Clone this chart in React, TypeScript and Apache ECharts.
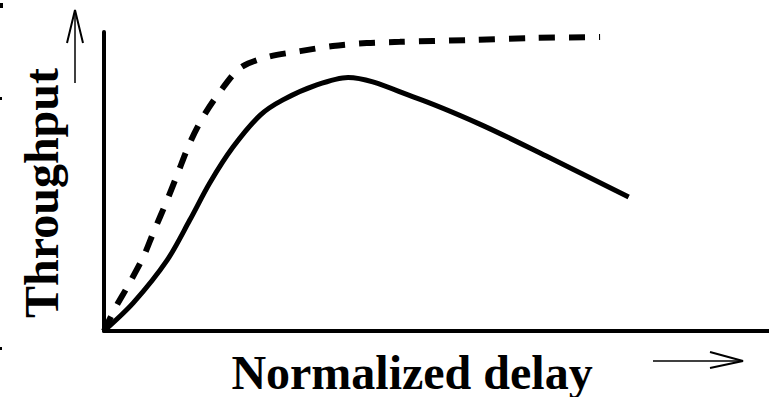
import React, { useEffect, useRef } from "react";
import * as echarts from "echarts";

// Normalized delay (x) / throughput (y) readings, axis range 0..100
const solidX = [0, 4.4, 9.5, 12.9, 15.9, 19.4, 23.5, 26.9, 32.0, 36.7, 46.5, 56.5, 66.5, 78.9];
const solidY = [0, 9.4, 23.7, 37.1, 49.5, 61.5, 72.2, 77.3, 82.3, 84.8, 78.3, 69.2, 58.5, 44.8];

const dashedX = [0, 1.7, 3.5, 5.9, 7.4, 9.5, 11.1, 12.9, 14.9, 17.4, 20.5, 24.5, 29.5, 34.4, 39.5, 44.5, 54.6, 64.5, 74.6];
const dashedY = [0, 7.7, 14.7, 24.7, 32.8, 43.8, 52.8, 62.9, 71.6, 79.9, 88.0, 91.6, 93.6, 95.3, 96.3, 96.7, 97.3, 98.0, 98.3];

const xTitle = "Normalized delay";
const yTitle = "Throughput";

export default function App() {
  const ref = useRef<HTMLDivElement>(null);

  useEffect(() => {
    document.body.style.margin = "0";
    if (!ref.current) return;
    const chart = echarts.init(ref.current, null, { renderer: "svg" });
    const font = "'Liberation Serif', 'Times New Roman', serif";
    chart.setOption({
      animation: false,
      backgroundColor: "#ffffff",
      grid: { left: 104, right: 0, top: 32, bottom: 66 },
      xAxis: {
        type: "value",
        min: 0,
        max: 100,
        axisLine: { show: true, lineStyle: { color: "#000", width: 4 } },
        axisTick: { show: false },
        axisLabel: { show: false },
        splitLine: { show: false },
      },
      yAxis: {
        type: "value",
        min: 0,
        max: 100,
        axisLine: { show: true, lineStyle: { color: "#000", width: 4 } },
        axisTick: { show: false },
        axisLabel: { show: false },
        splitLine: { show: false },
      },
      series: [
        {
          type: "line",
          data: dashedX.map((x, i) => [x, dashedY[i]]),
          smooth: 0.3,
          showSymbol: false,
          lineStyle: { color: "#000", width: 6, type: [16, 14] },
        },
        {
          type: "line",
          data: solidX.map((x, i) => [x, solidY[i]]),
          smooth: 0.3,
          showSymbol: false,
          lineStyle: { color: "#000", width: 5 },
        },
      ],
      graphic: [
        {
          type: "text",
          x: 41,
          y: 193,
          rotation: Math.PI / 2,
          style: {
            text: yTitle,
            font: `bold 48px ${font}`,
            fill: "#000",
            align: "center",
            verticalAlign: "middle",
          },
        },
        {
          type: "text",
          x: 412,
          y: 372,
          style: {
            text: xTitle,
            font: `bold 48px ${font}`,
            fill: "#000",
            align: "center",
            verticalAlign: "middle",
          },
        },
        // up arrow
        { type: "line", shape: { x1: 75, y1: 12, x2: 75, y2: 83 }, style: { stroke: "#000", lineWidth: 1.5 } },
        { type: "polyline", shape: { points: [[67, 43], [75, 10], [83, 43]] }, style: { stroke: "#000", lineWidth: 2, fill: "none" } },
        // right arrow
        { type: "line", shape: { x1: 653, y1: 361, x2: 741, y2: 361 }, style: { stroke: "#000", lineWidth: 1.5 } },
        { type: "polyline", shape: { points: [[710, 352], [743, 361], [710, 368]] }, style: { stroke: "#000", lineWidth: 2, fill: "none" } },
        // edge specks
        { type: "rect", shape: { x: 0, y: 3, width: 3, height: 5 }, style: { fill: "#000" } },
        { type: "rect", shape: { x: 0, y: 97, width: 2, height: 3 }, style: { fill: "#000" } },
        { type: "rect", shape: { x: 0, y: 347, width: 2, height: 3 }, style: { fill: "#000" } },
      ],
    });
    return () => chart.dispose();
  }, []);

  return <div ref={ref} style={{ width: 769, height: 397 }} />;
}
